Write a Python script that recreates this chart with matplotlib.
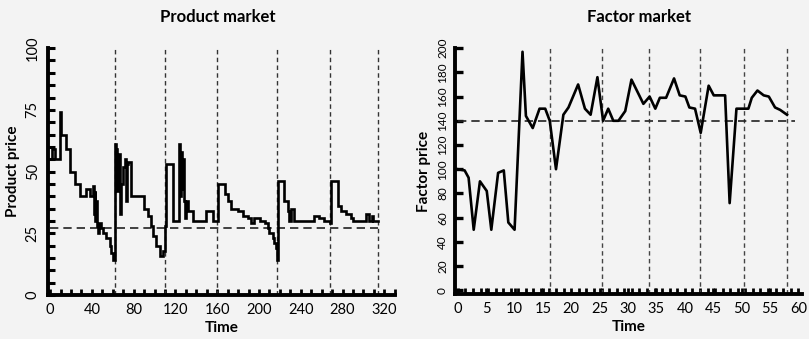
import numpy as np
import matplotlib
matplotlib.use("Agg")
import matplotlib.pyplot as plt

plt.rcParams['font.family'] = ['Lato', 'DejaVu Sans']

# Product market: price steps (time, price)
prod_time = [0, 2, 4.3, 9.1, 10.7, 15.5, 18.7, 23.4, 28.2, 34.6, 37.8, 41, 42, 42.7,
             43.3, 44, 44.6, 45.8, 47, 49, 51, 53.8, 56.9, 58.6, 60.1, 61.7, 63,
             64.5, 65.2, 66.5, 68, 69.7, 71.3, 72.5, 73.2, 74.5, 77.7, 90.4, 93.6,
             96.8, 98.4, 101.6, 104.8, 107.9, 109.6, 110.4, 111.2, 117.5, 123.9,
             124.8, 125.5, 126.3, 127, 127.8, 128.7, 130.3, 131.9, 136.7, 149.5,
             155.8, 160.6, 167, 170.2, 173.4, 179.8, 184.5, 189.3, 192.5, 195,
             200.5, 205.3, 208.4, 210, 213.2, 214.8, 216.4, 217.4, 218, 224.4,
             227.6, 229.2, 230.8, 233.9, 253.1, 257.9, 262.7, 267.5, 269.1, 275.4,
             278.6, 283.4, 288.2, 289.8, 302.6, 305.7, 308, 309, 313.7]
prod_price = [55, 59, 55, 74, 65, 59, 50, 45, 40, 43, 40, 44, 33, 42,
              30, 38, 28, 25, 29, 27, 25, 23, 20, 17, 14, 61, 59,
              42, 57, 33, 45, 52, 55, 38, 53, 54, 40, 35, 32,
              28, 24, 20, 16, 18, 23, 28, 53, 30, 61,
              40, 58, 43, 55, 38, 31, 38, 34, 30, 34,
              30, 45, 41, 38, 35, 34, 32, 31, 29, 31,
              30, 29, 27, 25, 23, 21, 19, 14, 46, 38,
              34, 30, 35, 30, 32, 31, 30, 29, 46, 36,
              34, 33, 31, 30, 33, 30, 32, 30, 30]
prod_equilibrium = 27
prod_shocks = [61.7, 110.5, 159.6, 217.4, 268.1, 313.7]
prod_xticks = [0, 40, 80, 120, 160, 200, 240, 280, 320]
prod_yticks = [0, 25, 50, 75, 100]

# Factor market: price path (time, price)
fact_time = [0, 1.2, 1.9, 2.8, 3.9, 5.1, 5.9, 7.1, 8.1, 8.9, 10.0, 11.4, 12.0, 13.2,
             14.4, 15.4, 16.2, 17.3, 18.6, 19.5, 21.2, 22.4, 23.4, 24.6, 25.6,
             26.5, 27.4, 28.3, 29.5, 30.6, 32.7, 33.8, 34.8, 35.6, 36.7, 38.1,
             39.1, 40.1, 40.8, 41.8, 42.8, 44.2, 45.1, 47.1, 47.9, 49.1, 51.2,
             51.8, 52.8, 53.9, 54.8, 55.9, 56.8, 58.0]
fact_price = [100, 99, 93, 50, 90, 82, 50, 97, 99, 56, 50, 197, 144, 134,
              150, 150, 140, 100, 145, 151, 170, 150, 145, 176, 140,
              150, 140, 140, 148, 174, 154, 160, 150, 159, 159, 175,
              161, 160, 151, 150, 130, 169, 161, 161, 72, 150, 150,
              159, 165, 161, 160, 151, 149, 145]
fact_equilibrium = 140
fact_shocks = [16.2, 25.4, 33.7, 42.7, 50.5, 58.0]
fact_xticks = [0, 5, 10, 15, 20, 25, 30, 35, 40, 45, 50, 55, 60]
fact_yticks = [0, 20, 40, 60, 80, 100, 120, 140, 160, 180, 200]

bg = '#f3f3f3'
fig = plt.figure(figsize=(8.09, 3.39), dpi=100, facecolor=bg)

ax1 = fig.add_axes([0.0593, 0.1298, 0.4287, 0.7282], facecolor=bg)
ax2 = fig.add_axes([0.5624, 0.1330, 0.4286, 0.7250], facecolor=bg)


def style_axes(ax):
    for s in ('top', 'right'):
        ax.spines[s].set_visible(False)
    for s in ('left', 'bottom'):
        ax.spines[s].set_linewidth(2.8)
        ax.spines[s].set_color('black')
    ax.tick_params(axis='both', which='both', direction='in', color='black')
    ax.tick_params(axis='x', which='major', labelsize=10.5, pad=6)


# Product market panel
style_axes(ax1)
ax1.vlines(prod_shocks, 0, 100, colors='#333333', linestyles=(0, (3.2, 2.4)), linewidth=1.0)
ax1.plot([0, prod_shocks[-1]], [prod_equilibrium] * 2, color='#222222',
         linestyle=(0, (5, 3)), linewidth=1.2)
ax1.plot(prod_time, prod_price, drawstyle='steps-post', color='black',
         linewidth=1.9, solid_joinstyle='miter')
ax1.set_xlim(-2, 330)
ax1.set_ylim(0, 100)
ax1.set_xticks(prod_xticks)
ax1.set_xticks(np.arange(0, 331, 10), minor=True)
ax1.set_yticks(prod_yticks)
ax1.set_yticks(np.arange(0, 101, 5), minor=True)
ax1.tick_params(axis='y', which='both', length=5, width=2.2)
ax1.tick_params(axis='x', which='both', length=4, width=2.0)
ax1.tick_params(axis='y', which='major', labelsize=10.5, pad=6)
for lbl in ax1.get_yticklabels():
    lbl.set_rotation(90)
    lbl.set_va('center')
ax1.set_title('Product market', fontsize=12, fontweight='bold', pad=19, x=0.49)
ax1.set_xlabel('Time', fontsize=11, fontweight='bold', labelpad=3)
ax1.set_ylabel('Product price', fontsize=11, fontweight='bold', labelpad=4)

# Factor market panel
style_axes(ax2)
ax2.vlines(fact_shocks, -3, 200, colors='#444444', linestyles=(0, (3.2, 2.4)), linewidth=1.0)
ax2.plot([0, 59.5], [fact_equilibrium] * 2, color='#222222',
         linestyle=(0, (5, 3)), linewidth=1.2)
ax2.plot(fact_time, fact_price, color='black', linewidth=1.9)
ax2.set_xlim(-0.5, 60.6)
ax2.set_ylim(-3, 200)
ax2.set_xticks(fact_xticks)
ax2.set_xticks(np.arange(0, 60.7, 4 / 3), minor=True)
ax2.set_yticks(fact_yticks)
ax2.tick_params(axis='y', which='both', length=6, width=2.4)
ax2.tick_params(axis='x', which='both', length=4, width=2.0)
ax2.tick_params(axis='y', which='major', labelsize=8.5, pad=5)
for lbl in ax2.get_yticklabels():
    lbl.set_rotation(90)
    lbl.set_va('center')
ax2.set_title('Factor market', fontsize=12, fontweight='bold', pad=19, x=0.53)
ax2.set_xlabel('Time', fontsize=11, fontweight='bold', labelpad=3)
ax2.set_ylabel('Factor price', fontsize=11, fontweight='bold', labelpad=4)

fig.savefig('out.png', dpi=100, facecolor=bg)
